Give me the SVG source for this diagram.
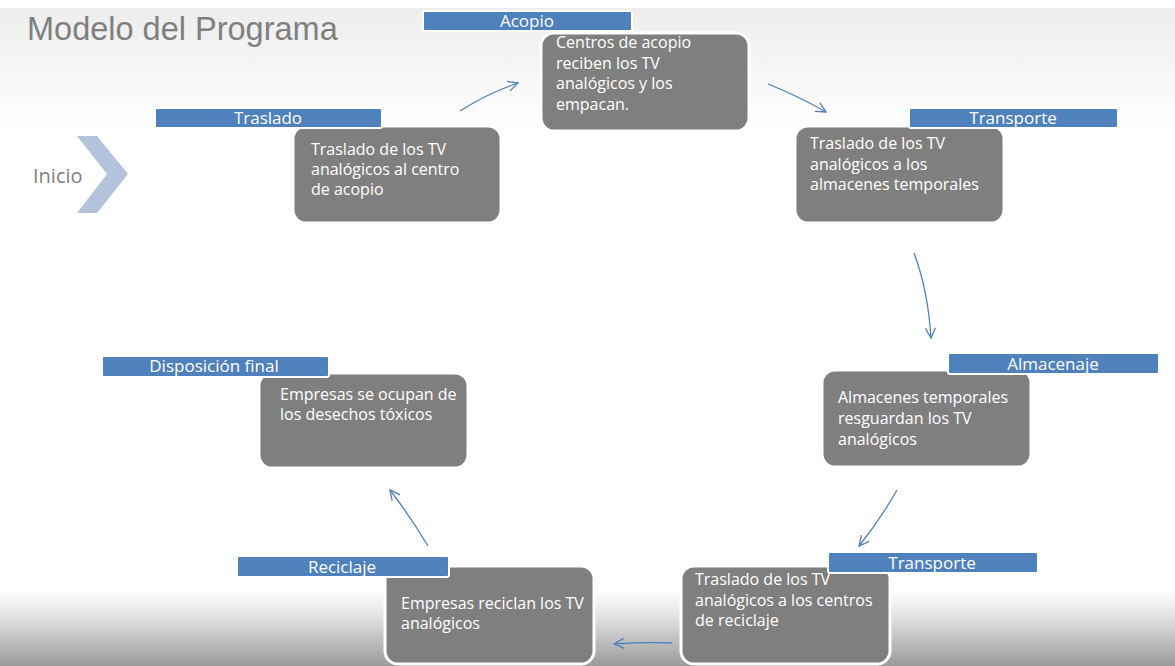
<svg xmlns="http://www.w3.org/2000/svg" width="1175" height="666" viewBox="0 0 1175 666">
<defs>
<linearGradient id="topg" x1="0" y1="0" x2="0" y2="1">
<stop offset="0" stop-color="#ededed"/>
<stop offset="1" stop-color="#ffffff"/>
</linearGradient>
<linearGradient id="botg" x1="0" y1="0" x2="0" y2="1">
<stop offset="0" stop-color="#ffffff"/>
<stop offset="0.35" stop-color="#e2e2e2"/>
<stop offset="1" stop-color="#9a9a9a"/>
</linearGradient>
<marker id="ah" viewBox="0 0 12 12" refX="11" refY="6" markerWidth="12" markerHeight="12" markerUnits="userSpaceOnUse" orient="auto">
<path d="M1,1 L11,6 L1,11" fill="none" stroke="#4f81bd" stroke-width="1.3"/>
</marker>
<style>
.box{fill:#7f7f7f;stroke:#ffffff;stroke-width:3}
.lab{fill:#4f81bd;stroke:#ffffff;stroke-width:2}
.bt{font-family:"Open Sans","Liberation Sans",sans-serif;font-size:16px;fill:#ffffff}
.lt{font-family:"Open Sans","Liberation Sans",sans-serif;font-size:17px;fill:#ffffff;text-anchor:middle}
.con path{fill:none;stroke:#4f81bd;stroke-width:1.3;marker-end:url(#ah)}
</style>
</defs>
<rect x="0" y="0" width="1175" height="666" fill="#ffffff"/>
<rect x="0" y="8" width="1175" height="125" fill="url(#topg)"/>
<rect x="0" y="590" width="1175" height="76" fill="url(#botg)"/>
<text x="27" y="40" font-family="'Liberation Sans',Arial,sans-serif" font-size="32.5" fill="#7f7f7f">Modelo del Programa</text>
<g id="inicio">
<polygon points="77,136 97,136 128,174 97,213 77,213 107,174" fill="#b3c3dc"/>
<text x="33" y="183" font-family="'Open Sans','Liberation Sans',sans-serif" font-size="20" fill="#7f7f7f">Inicio</text>
</g>
<g class="con" id="connectors">
<path d="M460,111 Q488,93 518,83"/>
<path d="M768,84 Q798,96 826,112"/>
<path d="M914,253 Q928,290 931,338"/>
<path d="M897,490 Q880,520 859,546"/>
<path d="M672,643 Q645,642 614,644"/>
<path d="M428,546 Q410,516 390,490"/>
</g>
<g id="acopio">
<rect class="box" x="541" y="33" width="208" height="98" rx="13"/>
<rect class="lab" x="423" y="11" width="209" height="20" rx="2"/>
<text class="lt" x="527" y="27">Acopio</text>
<text class="bt" x="556" y="48">Centros de acopio</text>
<text class="bt" x="556" y="69">reciben los TV</text>
<text class="bt" x="556" y="89">analógicos y los</text>
<text class="bt" x="556" y="110">empacan.</text>
</g>
<g id="traslado">
<rect class="box" x="293" y="126" width="208" height="97" rx="13"/>
<rect class="lab" x="155" y="108" width="227" height="20" rx="2"/>
<text class="lt" x="268" y="124">Traslado</text>
<text class="bt" x="311" y="155">Traslado de los TV</text>
<text class="bt" x="311" y="175">analógicos al centro</text>
<text class="bt" x="311" y="195">de acopio</text>
</g>
<g id="transporte1">
<rect class="box" x="795" y="126" width="209" height="97" rx="13"/>
<rect class="lab" x="909" y="108" width="209" height="20" rx="2"/>
<text class="lt" x="1013" y="124">Transporte</text>
<text class="bt" x="810" y="149">Traslado de los TV</text>
<text class="bt" x="810" y="170">analógicos a los</text>
<text class="bt" x="810" y="190">almacenes temporales</text>
</g>
<g id="almacenaje">
<rect class="box" x="822" y="370" width="209" height="97" rx="13"/>
<rect class="lab" x="948" y="353" width="211" height="21" rx="2"/>
<text class="lt" x="1053" y="370">Almacenaje</text>
<text class="bt" x="838" y="403">Almacenes temporales</text>
<text class="bt" x="838" y="424">resguardan los TV</text>
<text class="bt" x="838" y="445">analógicos</text>
</g>
<g id="transporte2">
<rect class="box" x="681" y="566" width="209" height="98" rx="13"/>
<rect class="lab" x="828" y="552" width="210" height="21" rx="2"/>
<text class="lt" x="932" y="569">Transporte</text>
<text class="bt" x="695" y="585">Traslado de los TV</text>
<text class="bt" x="695" y="606">analógicos a los centros</text>
<text class="bt" x="695" y="626">de reciclaje</text>
</g>
<g id="reciclaje">
<rect class="box" x="385" y="566" width="209" height="98" rx="13"/>
<rect class="lab" x="237" y="556" width="212" height="21" rx="2"/>
<text class="lt" x="342" y="573">Reciclaje</text>
<text class="bt" x="401" y="609">Empresas reciclan los TV</text>
<text class="bt" x="401" y="629">analógicos</text>
</g>
<g id="disposicion">
<rect class="box" x="259" y="373" width="209" height="95" rx="13"/>
<rect class="lab" x="102" y="356" width="227" height="21" rx="2"/>
<text class="lt" x="214" y="372">Disposición final</text>
<text class="bt" x="280" y="400">Empresas se ocupan de</text>
<text class="bt" x="280" y="420">los desechos tóxicos</text>
</g>
</svg>
